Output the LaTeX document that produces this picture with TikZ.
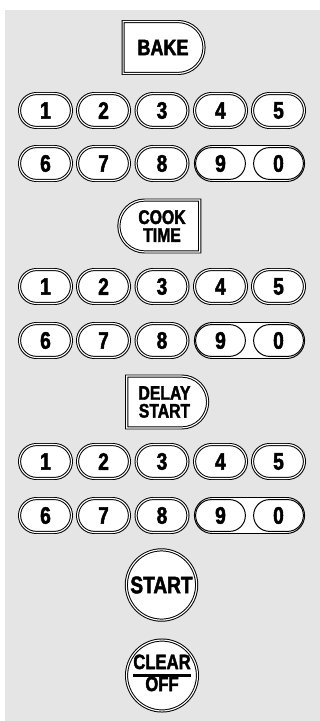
\documentclass[tikz,border=0pt]{standalone}
\usepackage{fontspec}
\setmainfont{Liberation Sans}[FakeStretch=0.8, BoldFeatures={FakeBold=2}]
\usetikzlibrary{shapes.misc}
\definecolor{panelgray}{RGB}{229,229,229}
\setlength{\arrayrulewidth}{1.5pt}
\tikzset{
  dblborder/.style={
    draw=black, line width=0.7pt,
    double=white, double distance=0.8pt, fill=white
  },
  numkey/.style={
    rounded rectangle, dblborder,
    minimum width=36.9pt, minimum height=24.1pt, inner sep=0pt,
    font=\fontsize{17}{19}\selectfont\bfseries
  },
  pairkey/.style={
    rounded rectangle, draw=black, line width=0.7pt, fill=white,
    minimum width=35.4pt, minimum height=22.6pt, inner sep=0pt,
    font=\fontsize{17}{19}\selectfont\bfseries
  },
  pairframe/.style={
    rounded rectangle, draw=black, line width=0.7pt, fill=white,
    minimum width=78.3pt, minimum height=25.6pt, inner sep=0pt
  },
  modekey/.style={
    rounded rectangle, dblborder,
    minimum width=57.5pt, minimum height=36.9pt, inner sep=0pt,
    align=center, font=\fontsize{14}{12.7}\selectfont\bfseries
  },
  roundkey/.style={
    circle, dblborder, minimum size=50pt, inner sep=0pt,
    align=center, font=\fontsize{14.8}{16}\selectfont\bfseries
  }
}

\begin{document}
\begin{tikzpicture}[x=0.025cm, y=-0.025cm]

    % Panel
    \useasboundingbox (0,0) rectangle (320,721);
    \fill[panelgray] (5,10) rectangle (320,721);

    % Bake
    \node[modekey, rounded rectangle left arc=none, font=\fontsize{16}{16}\selectfont\bfseries] (bake) at (163,47.5) {BAKE};
    \node[numkey] (A1) at (45.5,110.5) {1};
    \node[numkey] (A2) at (103.5,110.5) {2};
    \node[numkey] (A3) at (162,110.5) {3};
    \node[numkey] (A4) at (220.5,110.5) {4};
    \node[numkey] (A5) at (278.5,110.5) {5};
    \node[numkey] (A6) at (45.5,163.5) {6};
    \node[numkey] (A7) at (103.5,163.5) {7};
    \node[numkey] (A8) at (162,163.5) {8};
    \node[pairframe] (A90) at (249.5,163.5) {};
    \node[pairkey] (A9) at (220.5,163.5) {9};
    \node[pairkey] (A0) at (278.5,163.5) {0};

    % Cook time
    \node[modekey, rounded rectangle right arc=none] (cook) at (162,226) {COOK\\TIME};
    \node[numkey] (C1) at (45.5,286.5) {1};
    \node[numkey] (C2) at (103.5,286.5) {2};
    \node[numkey] (C3) at (162,286.5) {3};
    \node[numkey] (C4) at (220.5,286.5) {4};
    \node[numkey] (C5) at (278.5,286.5) {5};
    \node[numkey] (C6) at (45.5,340.5) {6};
    \node[numkey] (C7) at (103.5,340.5) {7};
    \node[numkey] (C8) at (162,340.5) {8};
    \node[pairframe] (C90) at (249.5,340.5) {};
    \node[pairkey] (C9) at (220.5,340.5) {9};
    \node[pairkey] (C0) at (278.5,340.5) {0};

    % Delay start
    \node[modekey, rounded rectangle left arc=none] (delay) at (164.5,402) {DELAY\\START};
    \node[numkey] (D1) at (45.5,461.5) {1};
    \node[numkey] (D2) at (103.5,461.5) {2};
    \node[numkey] (D3) at (162,461.5) {3};
    \node[numkey] (D4) at (220.5,461.5) {4};
    \node[numkey] (D5) at (278.5,461.5) {5};
    \node[numkey] (D6) at (45.5,515.5) {6};
    \node[numkey] (D7) at (103.5,515.5) {7};
    \node[numkey] (D8) at (162,515.5) {8};
    \node[pairframe] (D90) at (249.5,515.5) {};
    \node[pairkey] (D9) at (220.5,515.5) {9};
    \node[pairkey] (D0) at (278.5,515.5) {0};

    % Start and clear
    \node[roundkey, font=\fontsize{17}{17}\selectfont\bfseries] (start) at (161.5,585) {START};
    \node[roundkey] (clear) at (162,675.5) {\renewcommand{\arraystretch}{0.8}\begin{tabular}{@{}c@{}}CLEAR\\\hline OFF\end{tabular}};

\end{tikzpicture}
\end{document}
